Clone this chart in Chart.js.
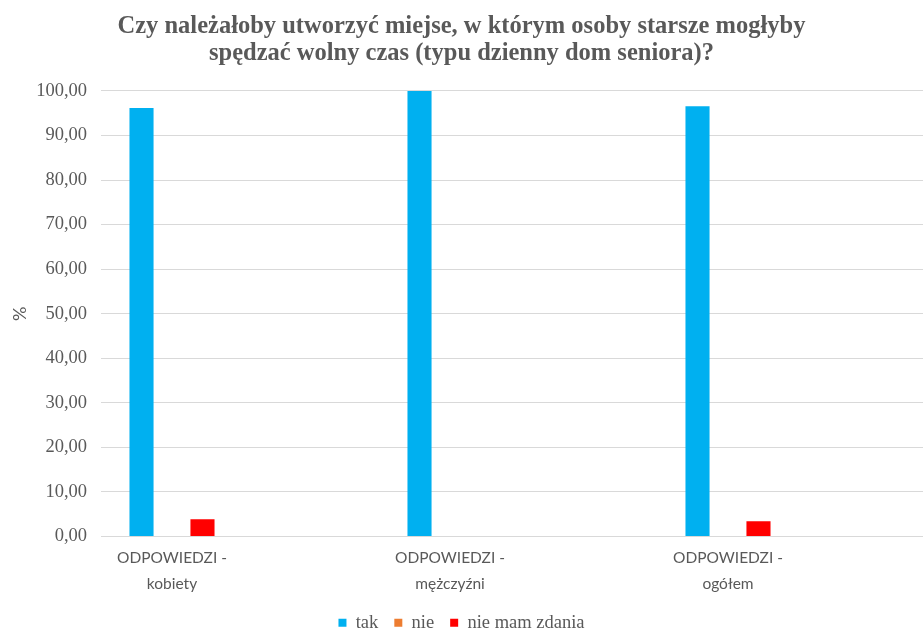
<!DOCTYPE html>
<html>
<head>
<meta charset="utf-8">
<script src="https://cdn.jsdelivr.net/npm/chart.js@4/dist/chart.umd.min.js"></script>
<style>
  html, body { margin: 0; padding: 0; background: #fff; overflow: hidden; }
  #wrap { width: 923px; height: 631px; }
</style>
</head>
<body>
<div id="wrap"><canvas id="c"></canvas></div>
<script>
const titleLines = [
  "Czy należałoby utworzyć miejse, w którym osoby starsze mogłyby",
  "spędzać wolny czas (typu dzienny dom seniora)?"
];
const categories = [
  ["ODPOWIEDZI -", "kobiety"],
  ["ODPOWIEDZI -", "mężczyźni"],
  ["ODPOWIEDZI -", "ogółem"]
];
const tak = [96.15, 100, 96.55];
const nie = [0, 0, 0];
const nieMamZdania = [3.85, 0, 3.45];
const yTicks = [0, 10, 20, 30, 40, 50, 60, 70, 80, 90, 100];

const grey = "#595959";
const serif = "'Liberation Serif', 'Times New Roman', serif";
const sans = "Lato, 'Liberation Sans', sans-serif";

const toPoints = (arr) => arr.map((v, i) => ({ x: i, y: v }));

new Chart(document.getElementById("c"), {
  type: "bar",
  data: {
    datasets: [
      { label: "tak", data: toPoints(tak), backgroundColor: "#00B0F0" },
      { label: "nie", data: toPoints(nie), backgroundColor: "#ED7D31" },
      { label: "nie mam zdania", data: toPoints(nieMamZdania), backgroundColor: "#FF0000" }
    ]
  },
  options: {
    responsive: true,
    maintainAspectRatio: false,
    animation: false,
    categoryPercentage: 0.329,
    barPercentage: 0.79,
    layout: { padding: { left: 0, right: 0, top: 13, bottom: -11 } },
    plugins: {
      title: {
        display: true,
        text: titleLines,
        color: grey,
        font: { family: serif, size: 24.5, weight: "bold", lineHeight: 1.1 },
        padding: { top: 0, bottom: 24 }
      },
      legend: {
        position: "bottom",
        labels: {
          color: grey,
          font: { family: serif, size: 18.5 },
          boxWidth: 8,
          boxHeight: 8,
          padding: 16
        }
      },
      tooltip: { enabled: false }
    },
    scales: {
      x: {
        type: "linear",
        offset: false,
        min: -71 / 278,
        max: 751 / 278,
        grid: { display: false },
        border: { display: false },
        afterBuildTicks: (scale) => {
          scale.ticks = categories.map((_, i) => ({ value: i }));
        },
        afterFit: (scale) => { scale.height = 61; },
        ticks: {
          color: grey,
          font: { family: sans, size: 15.5, lineHeight: 1.68 },
          maxRotation: 0,
          autoSkip: false,
          padding: 0,
          callback: (v) => categories[v]
        }
      },
      y: {
        min: 0,
        max: 100,
        afterBuildTicks: (scale) => {
          scale.ticks = yTicks.map((v) => ({ value: v }));
        },
        afterFit: (scale) => { scale.width = 101; },
        grid: { color: "#d9d9d9", drawTicks: false },
        border: { display: false },
        title: {
          display: true,
          text: "%",
          color: grey,
          font: { family: sans, size: 18 },
          padding: { top: 9, bottom: 0 }
        },
        ticks: {
          color: grey,
          font: { family: serif, size: 18.5 },
          padding: 14,
          callback: (v) => v.toFixed(2).replace(".", ",")
        }
      }
    }
  }
});
</script>
</body>
</html>
